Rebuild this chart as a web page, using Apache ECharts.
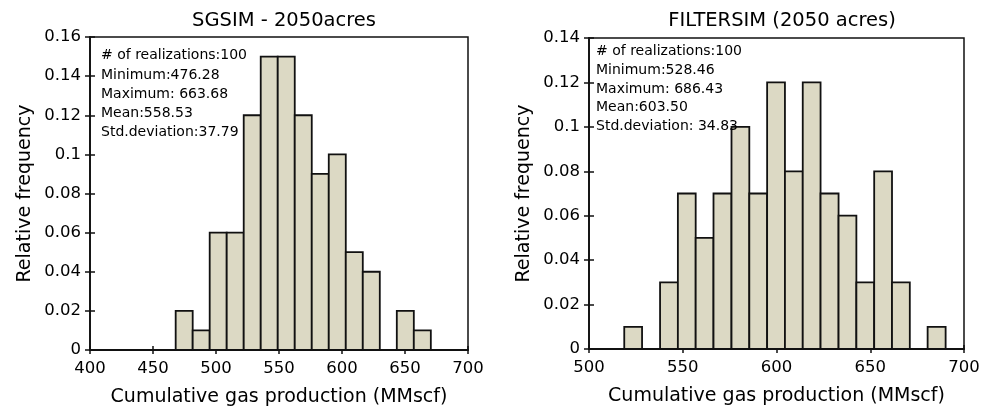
<!DOCTYPE html>
<html>
<head>
<meta charset="utf-8">
<script src="https://cdn.jsdelivr.net/npm/echarts@6/dist/echarts.min.js"></script>
<style>html,body{margin:0;padding:0;background:#fff}#c{width:989px;height:418px}</style>
</head>
<body>
<div id="c"></div>
<script>
// SGSIM histogram (bin edges and relative frequencies)
const sgsimEdges = [468, 481.5, 495, 508.5, 522, 535.5, 549, 562.5, 576, 589.5, 603, 616.5, 630, 643.5, 657, 670.5];
const sgsimFreq  = [0.02, 0.01, 0.06, 0.06, 0.12, 0.15, 0.15, 0.12, 0.09, 0.10, 0.05, 0.04, 0, 0.02, 0.01];
const sgsimStats = ['# of realizations:100', 'Minimum:476.28', 'Maximum: 663.68', 'Mean:558.53', 'Std.deviation:37.79'];

// FILTERSIM histogram
const filterEdges = [518.8, 528.3, 537.9, 547.4, 556.9, 566.4, 576.0, 585.5, 595.0, 604.5, 614.0, 623.5, 633.1, 642.6, 652.1, 661.6, 671.1, 680.6, 690.2];
const filterFreq  = [0.01, 0, 0.03, 0.07, 0.05, 0.07, 0.10, 0.07, 0.12, 0.08, 0.12, 0.07, 0.06, 0.03, 0.08, 0.03, 0, 0.01];
const filterStats = ['# of realizations:100', 'Minimum:528.46', 'Maximum: 686.43', 'Mean:603.50', 'Std.deviation: 34.83'];

const titles = ['SGSIM - 2050acres', 'FILTERSIM (2050 acres)'];
const xName = 'Cumulative gas production (MMscf)';
const yName = 'Relative frequency';

function toBins(edges, freq) {
  const out = [];
  for (let i = 0; i < freq.length; i++) {
    if (freq[i] > 0) out.push([edges[i], edges[i + 1], freq[i]]);
  }
  return out;
}

const FONT = '"DejaVu Sans", Verdana, sans-serif';
const FILL = '#dcd9c4';

function renderItem(params, api) {
  const p0 = api.coord([api.value(0), 0]);
  const p1 = api.coord([api.value(1), api.value(2)]);
  return {
    type: 'rect',
    shape: { x: p0[0], y: p1[1], width: p1[0] - p0[0], height: p0[1] - p1[1] },
    style: { fill: FILL, stroke: '#111', lineWidth: 1.8 }
  };
}

const grids = [
  { left: 90, top: 37, width: 378, height: 313, show: true, borderColor: '#111', borderWidth: 1.5, backgroundColor: 'transparent' },
  { left: 589, top: 38, width: 375, height: 311, show: true, borderColor: '#111', borderWidth: 1.5, backgroundColor: 'transparent' }
];

function xAxis(gi, min, max, main) {
  return {
    type: 'value', gridIndex: gi, min: min, max: max, interval: 50, position: 'bottom',
    name: main ? xName : '', nameLocation: 'middle', nameGap: 38,
    nameTextStyle: { fontFamily: FONT, fontSize: 19, color: '#000' },
    axisLine: { show: main, lineStyle: { color: '#111', width: 1.8 } },
    axisTick: { inside: !main, length: 4, lineStyle: { color: '#111', width: 1.5 } },
    axisLabel: { show: main, fontFamily: FONT, fontSize: 16.5, color: '#000', margin: 10 },
    splitLine: { show: false }
  };
}
function yAxis(gi, max, main) {
  return {
    type: 'value', gridIndex: gi, min: 0, max: max, interval: 0.02, position: 'left',
    name: main ? yName : '', nameLocation: 'middle', nameGap: 55,
    nameTextStyle: { fontFamily: FONT, fontSize: 19, color: '#000' },
    axisLine: { show: main, lineStyle: { color: '#111', width: 1.8 } },
    axisTick: { inside: !main, length: 5, lineStyle: { color: '#111', width: 1.5 } },
    axisLabel: { show: main, fontFamily: FONT, fontSize: 16.5, color: '#000', margin: 9 },
    splitLine: { show: false }
  };
}

function statsText(x, y, lines, lh) {
  return {
    type: 'text', left: x, top: y, z: 10,
    style: { text: lines.join('\n'), font: '14px ' + FONT, fill: '#000', lineHeight: lh }
  };
}

const chart = echarts.init(document.getElementById('c'), null, { renderer: 'canvas' });
chart.setOption({
  animation: false,
  title: [
    { text: titles[0], left: 279, top: 6, textAlign: 'center', textStyle: { fontFamily: FONT, fontSize: 19.5, fontWeight: 'normal', color: '#000' } },
    { text: titles[1], left: 777, top: 6, textAlign: 'center', textStyle: { fontFamily: FONT, fontSize: 19.5, fontWeight: 'normal', color: '#000' } }
  ],
  grid: grids,
  xAxis: [xAxis(0, 400, 700, true), xAxis(0, 400, 700, false), xAxis(1, 500, 700, true), xAxis(1, 500, 700, false)],
  yAxis: [yAxis(0, 0.16, true), yAxis(0, 0.16, false), yAxis(1, 0.14, true), yAxis(1, 0.14, false)],
  graphic: [statsText(101, 46, sgsimStats, 19.3), statsText(596, 42, filterStats, 18.8)],
  series: [
    { type: 'custom', xAxisIndex: 0, yAxisIndex: 0, renderItem: renderItem, data: toBins(sgsimEdges, sgsimFreq), encode: { x: [0, 1], y: 2 } },
    { type: 'custom', xAxisIndex: 2, yAxisIndex: 2, renderItem: renderItem, data: toBins(filterEdges, filterFreq), encode: { x: [0, 1], y: 2 } }
  ]
});
</script>
</body>
</html>
